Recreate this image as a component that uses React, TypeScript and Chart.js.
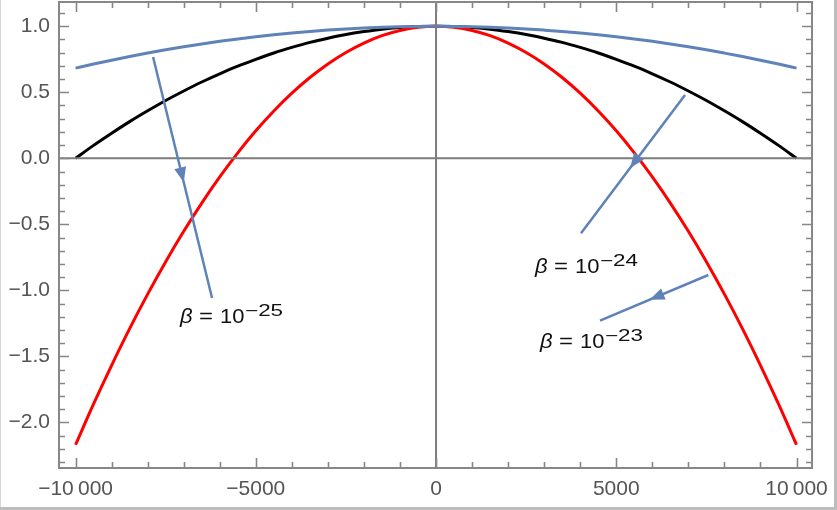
import React, { useEffect, useRef } from 'react';
import { Chart, registerables } from 'chart.js';

Chart.register(...registerables);

// ---- data ----
const X_VALUES = [
  -10000, -9500, -9000, -8500, -8000, -7500, -7000, -6500, -6000, -5500, -5000,
  -4500, -4000, -3500, -3000, -2500, -2000, -1500, -1000, -500, 0,
  500, 1000, 1500, 2000, 2500, 3000, 3500, 4000, 4500, 5000,
  5500, 6000, 6500, 7000, 7500, 8000, 8500, 9000, 9500, 10000,
];
const BLACK_VALUES = [
  0, 0.098, 0.19, 0.278, 0.36, 0.438, 0.51, 0.578, 0.64, 0.698, 0.75,
  0.798, 0.84, 0.878, 0.91, 0.938, 0.96, 0.978, 0.99, 0.998, 1,
  0.998, 0.99, 0.978, 0.96, 0.938, 0.91, 0.878, 0.84, 0.798, 0.75,
  0.698, 0.64, 0.578, 0.51, 0.438, 0.36, 0.278, 0.19, 0.098, 0,
];
const RED_VALUES = [
  -2.17, -1.861, -1.568, -1.29, -1.029, -0.783, -0.553, -0.339, -0.141, 0.041, 0.208,
  0.358, 0.493, 0.612, 0.715, 0.802, 0.873, 0.929, 0.968, 0.992, 1,
  0.992, 0.968, 0.929, 0.873, 0.802, 0.715, 0.612, 0.493, 0.358, 0.208,
  0.041, -0.141, -0.339, -0.553, -0.783, -1.029, -1.29, -1.568, -1.861, -2.17,
];
const BLUE_VALUES = [
  0.683, 0.714, 0.743, 0.771, 0.797, 0.822, 0.845, 0.866, 0.886, 0.904, 0.921,
  0.936, 0.949, 0.961, 0.971, 0.98, 0.987, 0.993, 0.997, 0.999, 1,
  0.999, 0.997, 0.993, 0.987, 0.98, 0.971, 0.961, 0.949, 0.936, 0.921,
  0.904, 0.886, 0.866, 0.845, 0.822, 0.797, 0.771, 0.743, 0.714, 0.683,
];

const X_TICKS = [-10000, -5000, 0, 5000, 10000];
const X_TICK_LABELS = ['\u221210\u2009000', '\u22125000', '0', '5000', '10\u2009000'];
const Y_TICKS = [-2, -1.5, -1, -0.5, 0, 0.5, 1];
const Y_TICK_LABELS = ['\u22122.0', '\u22121.5', '\u22121.0', '\u22120.5', '0.0', '0.5', '1.0'];
const X_MINOR_STEP = 1000;
const Y_MINOR_STEP = 0.1;

const X_MIN = -10460;
const X_MAX = 10430;
const Y_MIN = -2.346;
const Y_MAX = 1.184;

// annotations (data coordinates)
const ANNOT_EXPONENTS = ['\u221225', '\u221224', '\u221223'];
const ARROW_START_X = [-7850, 6907, 7554];
const ARROW_START_Y = [0.767, 0.48, -0.884];
const ARROW_END_X = [-6214, 4022, 4549];
const ARROW_END_Y = [-1.058, -0.568, -1.23];
const LABEL_X = [-7101, 2746, 2885];
const LABEL_Y = [-1.247, -0.866, -1.437];

const BLUE = '#5f82b8';
const FONT = '"Liberation Sans", Arial, sans-serif';

const framePlugin = {
  id: 'framePlugin',
  beforeDraw(chart: any) {
    const { ctx, width, height } = chart;
    ctx.save();
    ctx.fillStyle = '#ffffff';
    ctx.fillRect(0, 0, width, height);
    ctx.fillStyle = '#d6d6d6';
    ctx.fillRect(0, 0, 1, height);
    ctx.fillStyle = '#bdbdbd';
    ctx.fillRect(width - 3, 0, 3, height);
    ctx.fillRect(0, height - 3, width, 3);
    ctx.restore();
  },
  afterDatasetsDraw(chart: any) {
    const { ctx, chartArea: a, scales } = chart;
    const xs = scales.x;
    const ys = scales.y;
    ctx.save();
    // axes through origin
    ctx.strokeStyle = '#7c7c7c';
    ctx.lineWidth = 2;
    const x0 = xs.getPixelForValue(0);
    const y0 = ys.getPixelForValue(0);
    ctx.beginPath();
    ctx.moveTo(a.left, y0);
    ctx.lineTo(a.right, y0);
    ctx.moveTo(x0, a.top);
    ctx.lineTo(x0, a.bottom);
    ctx.stroke();

    // frame
    ctx.strokeStyle = '#878787';
    ctx.lineWidth = 2;
    ctx.strokeRect(a.left, a.top, a.right - a.left, a.bottom - a.top);

    // ticks (inward)
    ctx.lineWidth = 1.6;
    ctx.beginPath();
    const xFirst = X_TICKS[0];
    const xLast = X_TICKS[X_TICKS.length - 1];
    const nx = Math.round((xLast - xFirst) / X_MINOR_STEP);
    for (let i = 0; i <= nx; i++) {
      const v = xFirst + i * X_MINOR_STEP;
      const major = X_TICKS.includes(v);
      const len = major ? 10 : 6;
      const px = Math.round(xs.getPixelForValue(v)) + 0.5;
      ctx.moveTo(px, a.bottom);
      ctx.lineTo(px, a.bottom - len);
      ctx.moveTo(px, a.top);
      ctx.lineTo(px, a.top + len);
    }
    const kMin = Math.ceil(Y_MIN / Y_MINOR_STEP - 1e-9);
    const kMax = Math.floor(Y_MAX / Y_MINOR_STEP + 1e-9);
    for (let k = kMin; k <= kMax; k++) {
      const v = k * Y_MINOR_STEP;
      const major = Y_TICKS.some((t) => Math.abs(t - v) < 1e-6);
      const len = major ? 10 : 6;
      const py = Math.round(ys.getPixelForValue(v)) + 0.5;
      ctx.moveTo(a.left, py);
      ctx.lineTo(a.left + len, py);
      ctx.moveTo(a.right, py);
      ctx.lineTo(a.right - len, py);
    }
    ctx.stroke();

    // arrows + labels
    for (let i = 0; i < ANNOT_EXPONENTS.length; i++) {
      const sx = xs.getPixelForValue(ARROW_START_X[i]);
      const sy = ys.getPixelForValue(ARROW_START_Y[i]);
      const ex = xs.getPixelForValue(ARROW_END_X[i]);
      const ey = ys.getPixelForValue(ARROW_END_Y[i]);
      ctx.strokeStyle = BLUE;
      ctx.fillStyle = BLUE;
      ctx.lineWidth = 2.5;
      ctx.lineCap = 'butt';
      ctx.beginPath();
      ctx.moveTo(sx, sy);
      ctx.lineTo(ex, ey);
      ctx.stroke();
      const len = Math.hypot(ex - sx, ey - sy);
      const dx = (ex - sx) / len;
      const dy = (ey - sy) / len;
      const mx = (sx + ex) / 2;
      const my = (sy + ey) / 2;
      const tx = mx + dx * 5;
      const ty = my + dy * 5;
      const bx = tx - dx * 15;
      const by = ty - dy * 15;
      const nxv = -dy;
      const nyv = dx;
      ctx.beginPath();
      ctx.moveTo(tx, ty);
      ctx.lineTo(bx + nxv * 6, by + nyv * 6);
      ctx.lineTo(bx - nxv * 6, by - nyv * 6);
      ctx.closePath();
      ctx.fill();

      const lx = xs.getPixelForValue(LABEL_X[i]);
      const ly = ys.getPixelForValue(LABEL_Y[i]);
      ctx.fillStyle = '#111111';
      ctx.textBaseline = 'alphabetic';
      ctx.textAlign = 'left';
      const drawStretched = (text: string, x: number, y: number, font: string, sxs: number) => {
        ctx.save();
        ctx.translate(x, y);
        ctx.scale(sxs, 1);
        ctx.font = font;
        ctx.fillText(text, 0, 0);
        ctx.restore();
      };
      drawStretched('\u03b2', lx, ly, `italic 20px ${FONT}`, 1.1);
      drawStretched('=', lx + 19, ly, `20px ${FONT}`, 1.2);
      drawStretched('10', lx + 40, ly, `20px ${FONT}`, 1.1);
      drawStretched(ANNOT_EXPONENTS[i], lx + 65, ly - 7, `16px ${FONT}`, 1.4);
    }
    ctx.restore();
  },
};

export default function App() {
  const ref = useRef<HTMLCanvasElement>(null);
  useEffect(() => {
    document.body.style.margin = '0';
    const mk = (vals: number[]) => X_VALUES.map((x, i) => ({ x, y: vals[i] }));
    const chart = new Chart(ref.current as HTMLCanvasElement, {
      type: 'line',
      data: {
        datasets: [
          { label: 'black', data: mk(BLACK_VALUES), borderColor: '#000000', borderWidth: 3, order: 2 },
          { label: 'red', data: mk(RED_VALUES), borderColor: '#ff0000', borderWidth: 3, order: 1 },
          { label: 'blue', data: mk(BLUE_VALUES), borderColor: BLUE, borderWidth: 3, order: 0 },
        ].map((d) => ({ ...d, pointRadius: 0, fill: false, cubicInterpolationMode: 'monotone' as const })),
      },
      options: {
        animation: false,
        responsive: false,
        devicePixelRatio: 1,
        layout: { padding: { top: 2, right: 25, left: 0, bottom: 0 } },
        plugins: { legend: { display: false }, tooltip: { enabled: false } },
        scales: {
          x: {
            type: 'linear',
            min: X_MIN,
            max: X_MAX,
            grid: { display: false, drawTicks: false },
            border: { display: false },
            ticks: {
              font: { family: FONT, size: 21 },
              color: '#555555',
              padding: 9,
              maxRotation: 0,
              autoSkip: false,
              includeBounds: false,
              callback: (v: any) => {
                const i = X_TICKS.indexOf(Number(v));
                return i >= 0 ? X_TICK_LABELS[i] : '';
              },
            },
            afterBuildTicks: (s: any) => {
              s.ticks = X_TICKS.map((value) => ({ value }));
            },
            afterFit: (s: any) => {
              s.height = 42;
              s.paddingLeft = 0;
              s.paddingRight = 0;
            },
          },
          y: {
            type: 'linear',
            min: Y_MIN,
            max: Y_MAX,
            grid: { display: false, drawTicks: false },
            border: { display: false },
            ticks: {
              font: { family: FONT, size: 21 },
              color: '#555555',
              padding: 9,
              autoSkip: false,
              includeBounds: false,
              callback: (v: any) => {
                const i = Y_TICKS.findIndex((t) => Math.abs(t - Number(v)) < 1e-6);
                return i >= 0 ? Y_TICK_LABELS[i] : '';
              },
            },
            afterBuildTicks: (s: any) => {
              s.ticks = Y_TICKS.map((value) => ({ value }));
            },
            afterFit: (s: any) => {
              s.width = 59;
              s.paddingTop = 0;
              s.paddingBottom = 0;
            },
          },
        },
      },
      plugins: [framePlugin],
    } as any);
    return () => chart.destroy();
  }, []);
  return (
    <div style={{ width: 837, height: 510 }}>
      <canvas ref={ref} width={837} height={510} style={{ display: 'block' }} />
    </div>
  );
}
